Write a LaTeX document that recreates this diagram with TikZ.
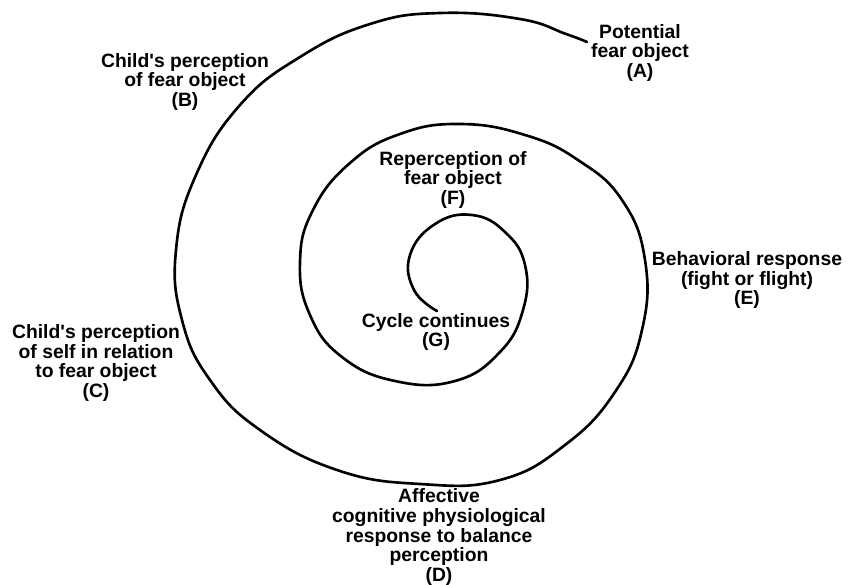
\documentclass[tikz,border=0pt]{standalone}
\usepackage{fontspec}
\setmainfont{Liberation Sans}
\begin{document}
\begin{tikzpicture}[x=0.02cm, y=-0.02cm,
    lab/.style={align=center, font=\bfseries\fontsize{11}{11.3}\selectfont},
    spiral/.style={line width=1.5pt, line cap=round}]
    \useasboundingbox (0,0) rectangle (849,585);

    % Spiral, from the outer end (A) in to the centre (G)
    \draw[spiral] plot[smooth, tension=0.75] coordinates {
        (587,42) (566,34) (520,19) (440,13) (370,24) (300,57) (240,105)
        (196,175) (176,250) (182,320) (210,380) (260,430) (337,470)
        (420,484) (500,480) (565,445) (615,392) (642,330) (645,260)
        (622,200) (578,160) (525,135) (460,124) (400,134) (350,163)
        (313,210) (300,262) (310,315) (342,357) (395,381) (455,381)
        (500,352) (523,310) (525,265) (505,232) (472,215) (435,224)
        (410,255) (414,290) (437,311)};

    % Stages
    \node[lab] (A) at (640,53) {Potential\\fear object\\(A)};
    \node[lab] (B) at (185,82) {Child\textquotesingle s perception\\of fear object\\(B)};
    \node[lab] (C) at (96,363) {Child\textquotesingle s perception\\of self in relation\\to fear object\\(C)};
    \node[lab] (D) at (439,537) {Affective\\cognitive physiological\\response to balance\\perception\\(D)};
    \node[lab] (E) at (747,280) {Behavioral response\\(fight or flight)\\(E)};
    \node[lab] (F) at (453,180) {Reperception of\\fear object\\(F)};
    \node[lab] (G) at (436,332) {Cycle continues\\(G)};
\end{tikzpicture}
\end{document}
